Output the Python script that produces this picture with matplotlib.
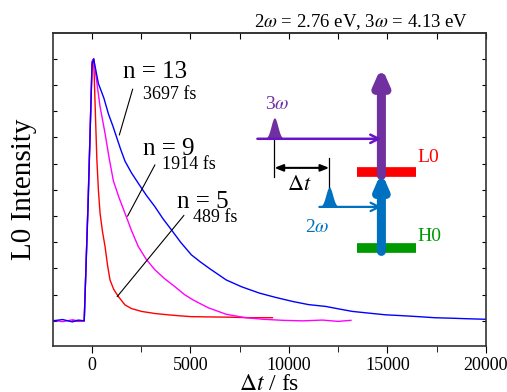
import numpy as np
import matplotlib
matplotlib.use('Agg')
import matplotlib.pyplot as plt

plt.rcParams['font.family'] = ['Liberation Serif', 'DejaVu Serif']
plt.rcParams['mathtext.fontset'] = 'stix'

# delay (fs) and normalised L0 intensity
t13 = [-2000, -1500, -1000, -700, -400, -200, 0, 80, 320, 600, 830, 1050, 1250, 1450, 1670,
       2000, 2350, 2750, 3190, 3600, 4035, 4500, 5045, 5500, 6000, 6820, 7600, 8500,
       9300, 10190, 11000, 11880, 12500, 13230, 14000, 14920, 15700, 16600, 17400,
       18300, 19100, 20000]
y13 = [0.0, 0.005, -0.004, 0.003, 0.0, 0.45, 0.98, 1.0, 0.906, 0.85, 0.79, 0.745, 0.70,
       0.655, 0.61, 0.565, 0.525, 0.48, 0.436, 0.39, 0.347, 0.30, 0.252, 0.225, 0.198,
       0.156, 0.13, 0.106, 0.09, 0.074, 0.062, 0.055, 0.046, 0.036, 0.03, 0.023, 0.02,
       0.016, 0.012, 0.01, 0.008, 0.006]

t9 = [-2000, -1500, -1000, -700, -400, -200, 0, 80, 405, 658, 870, 1080, 1370, 1670, 2000,
      2345, 2750, 3190, 3700, 4200, 4700, 5130, 5900, 6820, 7800, 8700, 9700, 10700,
      11700, 12500, 13150]
y9 = [0.002, -0.003, 0.004, 0.0, 0.0, 0.47, 0.99, 1.0, 0.818, 0.716, 0.62, 0.535, 0.47,
      0.411, 0.345, 0.284, 0.235, 0.195, 0.16, 0.131, 0.1, 0.08, 0.05, 0.025, 0.012,
      0.006, 0.002, 0.0, 0.003, -0.002, 0.002]

t5 = [-1000, -700, -400, -200, 0, 80, 240, 320, 405, 530, 658, 780, 911, 1100, 1333,
      1670, 2000, 2515, 3200, 3865, 4500, 5045, 6000, 7000, 8000, 9165]
y5 = [0.002, -0.002, 0.0, 0.46, 0.99, 1.0, 0.62, 0.5, 0.411, 0.34, 0.284, 0.215, 0.156,
      0.12, 0.093, 0.061, 0.047, 0.036, 0.028, 0.023, 0.019, 0.016, 0.015, 0.014,
      0.012, 0.012]

fig = plt.figure(figsize=(5.07, 3.92), dpi=100)
ax = fig.add_axes([0.104, 0.118, 0.854, 0.7986])

ax.plot(t5, y5, color='#FF0000', lw=1.0)
ax.plot(t9, y9, color='#FF00FF', lw=1.0)
ax.plot(t13, y13, color='#0000FF', lw=1.0)

ax.set_xticks([0, 5000, 10000, 15000, 20000])
ax.set_xticks(np.arange(0, 20001, 2500), minor=True)
ax.set_yticks(np.arange(0, 1.01, 0.1))
ax.set_yticklabels([])
ax.set_xlim(-2000, 20000)
ax.set_ylim(-0.095, 1.1)
ax.tick_params(axis='x', which='both', direction='out', top=False, labelsize=13, length=5, pad=3)
ax.tick_params(axis='y', which='both', direction='in', right=True, length=3)
ax.tick_params(axis='x', which='minor', length=4)
sec = ax.secondary_xaxis('top')
sec.set_xticks(np.arange(0, 20001, 2500))
sec.set_xticklabels([])
sec.tick_params(direction='in', length=4)
for s in ax.spines.values():
    s.set_color('#333333')
    s.set_linewidth(1.2)
sec.spines['top'].set_linewidth(1.2)
sec.spines['top'].set_color('#333333')

ax.set_ylabel('L0 Intensity', fontsize=21, labelpad=8)
ax.set_xlabel(r'$\mathit{\Delta t}$ / fs', fontsize=17, labelpad=0)
fig.text(0.923, 0.931, r'2$\omega$ = 2.76 eV, 3$\omega$ = 4.13 eV', ha='right',
         va='baseline', fontsize=13.5)

# labels with leader lines
ax.text(1570, 0.927, 'n = 13', fontsize=18)
ax.text(2580, 0.847, '3697 fs', fontsize=13)
ax.plot([2060, 1385], [0.884, 0.71], color='black', lw=0.8)
ax.text(2580, 0.634, 'n = 9', fontsize=18)
ax.text(3545, 0.580, '1914 fs', fontsize=13)
ax.plot([3190, 1805], [0.595, 0.40], color='black', lw=0.8)
ax.text(4300, 0.431, 'n = 5', fontsize=18)
ax.text(5115, 0.378, '489 fs', fontsize=13)
ax.plot([4660, 1280], [0.402, 0.093], color='black', lw=0.8)

# level scheme inset
purple = '#7030A0'
violet = '#6A14C8'
blue2 = '#0070C0'
ax.plot([13470, 16450], [0.569, 0.569], color='#FF0000', lw=7, solid_capstyle='butt')
ax.plot([13470, 16450], [0.279, 0.279], color='#009A00', lw=7, solid_capstyle='butt')
ax.annotate('', xy=(14700, 0.97), xytext=(14700, 0.555),
            arrowprops=dict(arrowstyle='-|>,head_width=0.4,head_length=0.9', color=purple,
                            lw=6.5, shrinkA=0, shrinkB=0))
ax.annotate('', xy=(14700, 0.568), xytext=(14700, 0.265),
            arrowprops=dict(arrowstyle='-|>,head_width=0.35,head_length=0.8', color=blue2,
                            lw=6.5, shrinkA=0, shrinkB=0))
ax.text(16520, 0.622, 'L0', color='#FF0000', fontsize=14, va='center')
ax.text(16520, 0.321, 'H0', color='#009A00', fontsize=14, va='center')

ax.annotate('', xy=(14700, 0.695), xytext=(8400, 0.695),
            arrowprops=dict(arrowstyle='->,head_width=0.3,head_length=0.6', color=violet,
                            lw=1.8, shrinkA=0, shrinkB=0))
ax.annotate('', xy=(14700, 0.435), xytext=(11550, 0.435),
            arrowprops=dict(arrowstyle='->,head_width=0.3,head_length=0.6', color=blue2,
                            lw=1.6, shrinkA=0, shrinkB=0))
tp = np.linspace(-600, 600, 60)
ax.fill_between(9265 + tp, 0.695, 0.695 + 0.08 * np.exp(-tp**2 / (2 * 170**2)),
                color=purple, lw=0)
ax.fill_between(12050 + tp, 0.435, 0.435 + 0.076 * np.exp(-tp**2 / (2 * 170**2)),
                color=blue2, lw=0)
ax.text(9420, 0.824, r'3$\omega$', color=purple, fontsize=14, ha='center', va='center')
ax.text(11440, 0.355, r'2$\omega$', color=blue2, fontsize=14, ha='center', va='center')

ax.plot([9265, 9265], [0.695, 0.55], color='black', lw=0.9)
ax.plot([12050, 12050], [0.622, 0.511], color='black', lw=0.9)
ax.annotate('', xy=(9265, 0.584), xytext=(12050, 0.584),
            arrowprops=dict(arrowstyle='<|-|>,head_width=0.2,head_length=0.5', color='black',
                            lw=1.5, shrinkA=0, shrinkB=0))
ax.text(10530, 0.515, r'$\mathit{\Delta t}$', fontsize=16, ha='center', va='center')

fig.savefig('out.png', dpi=100)
